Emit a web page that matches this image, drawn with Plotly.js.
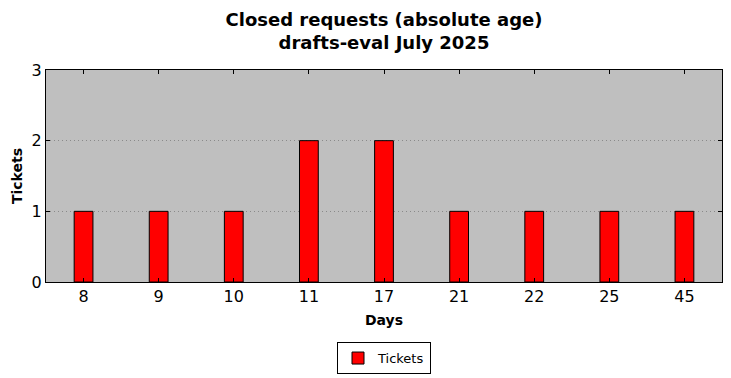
<!DOCTYPE html>
<html>
<head>
<meta charset="utf-8">
<script src="https://cdn.plot.ly/plotly-3.0.1.min.js"></script>
<style>html,body{margin:0;padding:0;background:#fff;}#chart{width:731px;height:378px;}</style>
</head>
<body>
<div id="chart"></div>
<script>
const days = ["8", "9", "10", "11", "17", "21", "22", "25", "45"];
const tickets = [1, 1, 1, 2, 2, 1, 1, 1, 1];
const yTicks = [0, 1, 2, 3];

const trace = {
  type: "bar",
  x: days,
  y: tickets,
  name: "Tickets",
  width: 0.25,
  marker: {color: "#ff0000", line: {color: "#000000", width: 1}},
  showlegend: true
};

const layout = {
  width: 731,
  height: 378,
  margin: {l: 46, r: 9, t: 70, b: 96},
  paper_bgcolor: "#ffffff",
  plot_bgcolor: "#bfbfbf",
  font: {family: "DejaVu Sans", color: "#000000"},
  title: {
    text: "<b>Closed requests (absolute age)</b><br><b>drafts-eval July 2025</b>",
    x: 0.5, xref: "paper", xanchor: "center",
    y: 0.932, yref: "container", yanchor: "middle",
    font: {family: "DejaVu Sans", size: 18, color: "#000000"}
  },
  xaxis: {
    type: "category",
    range: [-0.5, 8.5],
    automargin: false,
    showgrid: false,
    showline: true, linecolor: "#000000", linewidth: 1, mirror: "allticks",
    ticks: "inside", ticklen: 4, tickcolor: "#000000",
    tickfont: {size: 16},
    title: {text: "<b>Days</b>", font: {size: 14}, standoff: 9},
    zeroline: false
  },
  yaxis: {
    range: [0, 3],
    automargin: false,
    tickvals: yTicks,
    ticktext: yTicks.map(String),
    showgrid: true, gridcolor: "#8a8a8a", griddash: "1px,3px", gridwidth: 1,
    showline: true, linecolor: "#000000", linewidth: 1, mirror: "allticks",
    ticks: "inside", ticklen: 4, tickcolor: "#000000",
    tickfont: {size: 16},
    title: {text: "<b>Tickets</b>", font: {size: 14}, standoff: 5},
    zeroline: false
  },
  legend: {
    x: 0.5, xanchor: "center", xref: "paper",
    y: 0.095, yanchor: "top", yref: "container",
    orientation: "h",
    bordercolor: "#000000", borderwidth: 1, bgcolor: "#ffffff",
    font: {size: 13}
  },
  bargap: 0.75
};

Plotly.newPlot("chart", [trace], layout, {displayModeBar: false, staticPlot: true});
</script>
</body>
</html>
